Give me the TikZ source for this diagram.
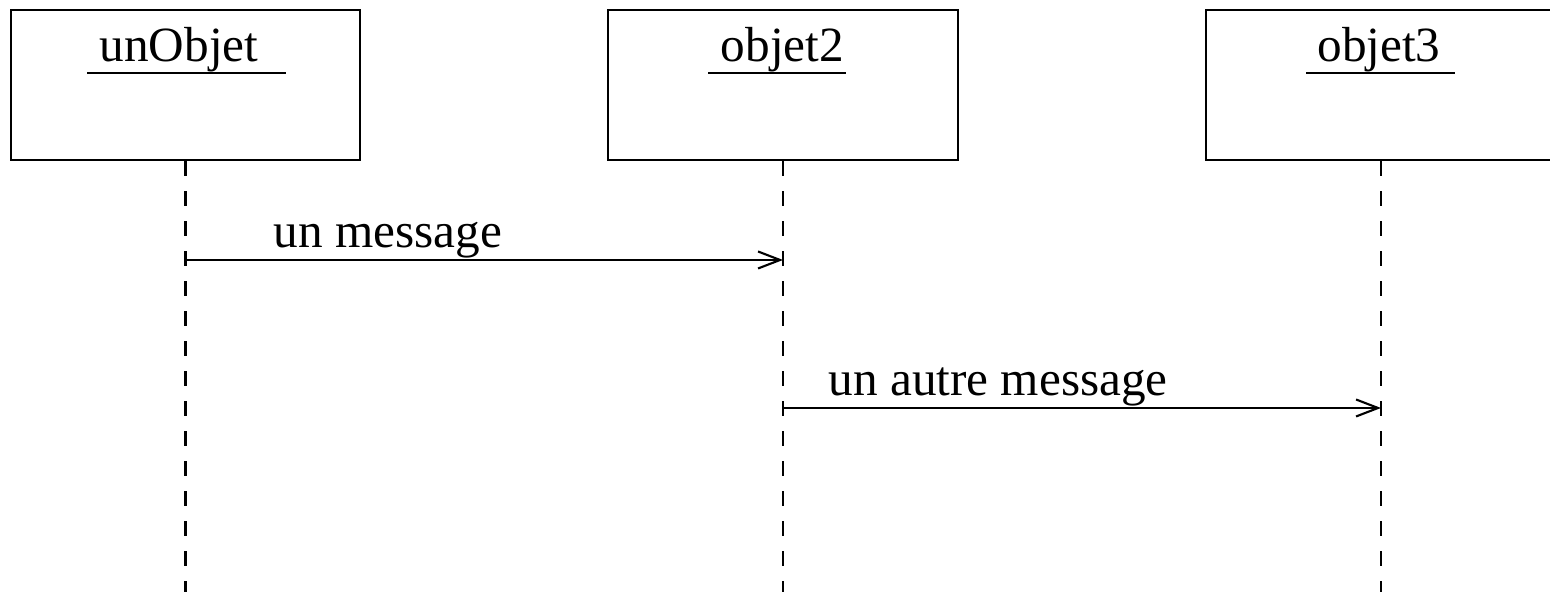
\documentclass[tikz,border=0pt]{standalone}
\usepackage{fontspec}
\setmainfont{Liberation Serif}
\usepackage{tikz}
\usetikzlibrary{arrows.meta,calc,positioning}
\newcommand{\DiagBottom}{592}
\tikzset{
  objBox/.style={draw, line width=0.6pt, minimum width=3.49cm, minimum height=1.5cm, inner sep=0pt},
  objName/.style={anchor=base, inner sep=0pt, font=\fontsize{14}{16}\selectfont},
  msgLabel/.style={anchor=base west, inner sep=0pt, font=\fontsize{14}{16}\selectfont},
  lifeLine/.style={line width=0.6pt, dash pattern=on 0.15cm off 0.15cm},
  nameRule/.style={line width=0.6pt},
  msgArrow/.style={-{Straight Barb[length=0.22cm, width=0.17cm]}, line width=0.6pt}
}
\begin{document}
\begin{tikzpicture}[x=0.01cm, y=-0.01cm]
  \useasboundingbox (0,0) rectangle (1550,\DiagBottom);
  \clip (0,0) rectangle (1550,\DiagBottom);
  % objects with their lifelines
  \foreach \id/\cx/\tx/\ttl/\ul/\ur in {A/185.5/179/unObjet/87/286,
                                         B/783/782.5/objet2/708/846,
                                         C/1381/1379/objet3/1306/1455}{
    \node[objBox] (\id) at (\cx,85) {};
    \node[objName] (\id name) at (\tx,62) {\ttl};
    \draw[nameRule] (\ul,73) -- (\ur,73);
    \coordinate (\id end) at (\cx,\DiagBottom);
    \draw[lifeLine] (\id.south) -- (\id end);
  }
  % messages
  \coordinate (m1s) at (A.south |- 0,260);
  \coordinate (m1e) at (B.south |- 0,260);
  \draw[msgArrow] (m1s) -- (m1e);
  \node[msgLabel] (m1) at (273,248) {un message};
  \coordinate (m2s) at (B.south |- 0,408);
  \coordinate (m2e) at (C.south |- 0,408);
  \draw[msgArrow] (m2s) -- (m2e);
  \node[msgLabel] (m2) at (828,396) {un autre message};
\end{tikzpicture}
\end{document}
